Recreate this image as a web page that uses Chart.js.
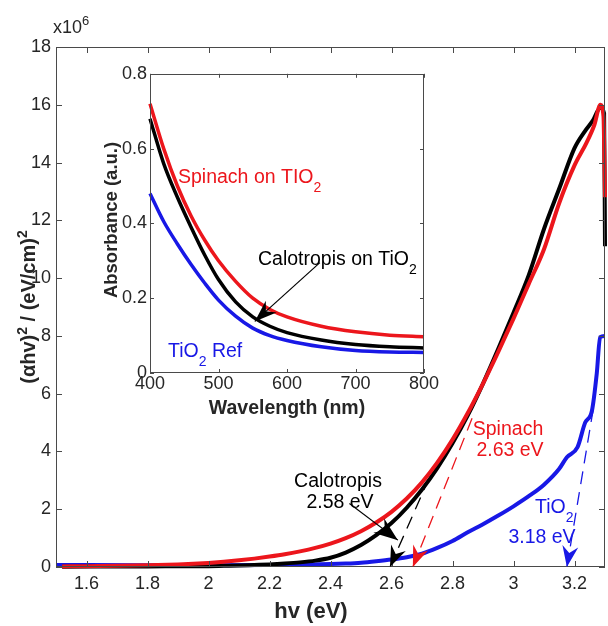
<!DOCTYPE html>
<html>
<head>
<meta charset="utf-8">
<script src="https://cdn.jsdelivr.net/npm/chart.js@4.4.0/dist/chart.umd.min.js"></script>
<style>
  html, body { margin: 0; padding: 0; background: #fff; }
  #wrap { position: relative; width: 608px; height: 626px; }
  #inset { position: absolute; left: 100px; top: 60px; }
</style>
</head>
<body>
<div id="wrap">
  <canvas id="main" width="608" height="626"></canvas>
  <canvas id="inset" width="340" height="370"></canvas>
</div>
<script>
// ---- Tauc plot, values in units of 1e6 (eV/cm)^2 ----
const hvSpinach  = [1.52, 1.6, 1.7, 1.8, 1.9, 1.95, 2.0, 2.05, 2.1, 2.15, 2.2, 2.25, 2.3, 2.35, 2.4, 2.45, 2.5, 2.55, 2.6, 2.65, 2.7, 2.75, 2.8, 2.85, 2.9, 2.95, 3.0, 3.05, 3.1, 3.15, 3.2, 3.24, 3.265, 3.285, 3.295, 3.3];
const tauSpinach = [0.02, 0.03, 0.04, 0.06, 0.09, 0.11, 0.14, 0.18, 0.23, 0.29, 0.36, 0.44, 0.54, 0.66, 0.81, 1.0, 1.24, 1.54, 1.91, 2.37, 2.93, 3.61, 4.41, 5.33, 6.35, 7.45, 8.6, 9.8, 11.0, 12.6, 13.9, 14.7, 15.3, 16.0, 15.6, 12.8];

const hvCalotropis  = [1.52, 1.8, 2.0, 2.05, 2.1, 2.15, 2.2, 2.25, 2.3, 2.35, 2.4, 2.45, 2.5, 2.55, 2.6, 2.65, 2.7, 2.75, 2.8, 2.85, 2.9, 2.95, 3.0, 3.05, 3.1, 3.15, 3.2, 3.235, 3.26, 3.285, 3.297, 3.3];
const tauCalotropis = [0.01, 0.02, 0.03, 0.04, 0.05, 0.07, 0.09, 0.12, 0.16, 0.22, 0.32, 0.5, 0.76, 1.1, 1.52, 2.05, 2.68, 3.42, 4.28, 5.25, 6.35, 7.55, 8.8, 10.1, 11.7, 13.1, 14.5, 15.1, 15.45, 15.9, 15.7, 11.1];

const hvTiO2  = [1.5, 1.8, 2.0, 2.2, 2.3, 2.4, 2.45, 2.5, 2.55, 2.6, 2.65, 2.7, 2.75, 2.8, 2.85, 2.9, 2.95, 3.0, 3.05, 3.1, 3.15, 3.175, 3.21, 3.235, 3.257, 3.273, 3.284, 3.3];
const tauTiO2 = [0.07, 0.06, 0.06, 0.07, 0.08, 0.1, 0.12, 0.15, 0.2, 0.26, 0.34, 0.46, 0.66, 0.9, 1.2, 1.48, 1.78, 2.1, 2.45, 2.85, 3.4, 3.8, 4.15, 5.0, 5.4, 6.7, 7.96, 8.0];

// tangent (band gap) lines: [intercept, upper point]
const fitSpinachHv = [2.67, 2.87];
const fitSpinachVal = [0, 5.3];
const fitCalotropisHv = [2.595, 2.72];
const fitCalotropisVal = [0, 3.0];
const fitTiO2Hv = [3.175, 3.262];
const fitTiO2Val = [0, 5.5];

const xTickValues = [1.6, 1.8, 2.0, 2.2, 2.4, 2.6, 2.8, 3.0, 3.2];
const xTickLabels = ['1.6', '1.8', '2', '2.2', '2.4', '2.6', '2.8', '3', '3.2'];
const yTickValues = [0, 2, 4, 6, 8, 10, 12, 14, 16, 18];
const yTickLabels = ['0', '2', '4', '6', '8', '10', '12', '14', '16', '18'];

// ---- inset: absorbance spectra ----
const wavelength = [400, 420, 440, 460, 480, 500, 525, 550, 575, 600, 650, 700, 750, 800];
const absSpinach    = [0.72, 0.60, 0.50, 0.42, 0.355, 0.30, 0.245, 0.20, 0.17, 0.15, 0.125, 0.11, 0.101, 0.097];
const absCalotropis = [0.68, 0.56, 0.47, 0.39, 0.315, 0.25, 0.19, 0.15, 0.125, 0.108, 0.088, 0.076, 0.07, 0.067];
const absTiO2       = [0.48, 0.405, 0.345, 0.29, 0.24, 0.195, 0.152, 0.12, 0.10, 0.087, 0.07, 0.06, 0.056, 0.055];

const wlTickValues = [400, 500, 600, 700, 800];
const wlTickLabels = ['400', '500', '600', '700', '800'];
const absTickValues = [0, 0.2, 0.4, 0.6, 0.8];
const absTickLabels = ['0', '0.2', '0.4', '0.6', '0.8'];

const RED = 'rgb(236,22,28)';
const BLUE = 'rgb(24,24,230)';
const BLACK = '#000000';
const AXIS = '#262626';
const FONT = "'Liberation Sans', Arial, Helvetica, sans-serif";

Chart.defaults.font.family = FONT;
Chart.defaults.color = AXIS;

function toXY(xs, ys) {
  return xs.map((v, i) => ({ x: v, y: ys[i] }));
}

function richText(ctx, parts, x, y, size, weight, color, align) {
  const fontOf = k => weight + ' ' + (k ? Math.round(size * 0.72) : size) + 'px ' + FONT;
  let w = 0;
  parts.forEach(p => { ctx.font = fontOf(p[1]); w += ctx.measureText(p[0]).width; });
  let cx = align === 'center' ? x - w / 2 : (align === 'right' ? x - w : x);
  ctx.fillStyle = color;
  ctx.textAlign = 'left';
  ctx.textBaseline = 'alphabetic';
  parts.forEach(p => {
    ctx.font = fontOf(p[1]);
    let dy = p[1] === 1 ? -size * 0.42 : (p[1] === -1 ? size * 0.45 : 0);
    ctx.fillText(p[0], cx, y + dy);
    cx += ctx.measureText(p[0]).width;
  });
}

function arrowHead(ctx, tx, ty, fx, fy, len, half, color) {
  const dx = tx - fx, dy = ty - fy, d = Math.hypot(dx, dy);
  const ux = dx / d, uy = dy / d, nx = -uy, ny = ux;
  const bx = tx - ux * len, by = ty - uy * len;
  ctx.beginPath();
  ctx.moveTo(tx, ty);
  ctx.lineTo(bx + nx * half, by + ny * half);
  ctx.lineTo(tx - ux * len * 0.68, ty - uy * len * 0.68);
  ctx.lineTo(bx - nx * half, by - ny * half);
  ctx.closePath();
  ctx.fillStyle = color;
  ctx.fill();
}

function boxPlugin(tickLen) {
  return {
    id: 'box',
    afterDatasetsDraw(chart) {
      const { ctx, chartArea: a, scales: { x, y } } = chart;
      ctx.save();
      ctx.strokeStyle = '#4a4a4a';
      ctx.lineWidth = 1;
      ctx.strokeRect(Math.round(a.left) + 0.5, Math.round(a.top) + 0.5,
        Math.round(a.right - a.left) - 1, Math.round(a.bottom - a.top) - 1);
      ctx.beginPath();
      x.ticks.forEach(t => {
        const px = Math.round(x.getPixelForValue(t.value)) + 0.5;
        ctx.moveTo(px, a.bottom); ctx.lineTo(px, a.bottom - tickLen);
        ctx.moveTo(px, a.top); ctx.lineTo(px, a.top + tickLen);
      });
      y.ticks.forEach(t => {
        const py = Math.round(y.getPixelForValue(t.value)) + 0.5;
        ctx.moveTo(a.left, py); ctx.lineTo(a.left + tickLen, py);
        ctx.moveTo(a.right, py); ctx.lineTo(a.right - tickLen, py);
      });
      ctx.stroke();
      ctx.restore();
    }
  };
}

function fixedTicks(values, labels, fontSize, padding) {
  return {
    afterBuildTicks: s => { s.ticks = values.map(v => ({ value: v })); },
    ticks: {
      font: { size: fontSize },
      color: AXIS,
      padding: padding,
      maxRotation: 0,
      autoSkip: false,
      callback: (v, i) => labels[i]
    },
    grid: { display: false, drawTicks: false },
    border: { display: false }
  };
}

/* MAIN CHART */
const mainText = {
  id: 'mainText',
  afterDraw(chart) {
    const { ctx, scales: { x, y } } = chart;
    ctx.save();
    richText(ctx, [['x10', 0], ['6', 1]], 53, 33, 18, 'normal', AXIS, 'left');
    ctx.font = 'bold 22px ' + FONT;
    ctx.fillStyle = AXIS;
    ctx.textAlign = 'center';
    ctx.textBaseline = 'middle';
    ctx.fillText('hv (eV)', 311, 612);

    ctx.save();
    ctx.translate(28, 307);
    ctx.rotate(-Math.PI / 2);
    richText(ctx, [['(\u03b1hv)', 0], ['2', 1], [' / (eV/cm)', 0], ['2', 1]], 0, 7, 20, 'bold', AXIS, 'center');
    ctx.restore();

    // arrowheads at the band gap intercepts
    const fits = [
      [fitCalotropisHv, fitCalotropisVal, BLACK],
      [fitSpinachHv, fitSpinachVal, RED],
      [fitTiO2Hv, fitTiO2Val, BLUE]
    ];
    fits.forEach(f => {
      arrowHead(ctx, x.getPixelForValue(f[0][0]), y.getPixelForValue(f[1][0]),
        x.getPixelForValue(f[0][1]), y.getPixelForValue(f[1][1]), 21, 8, f[2]);
    });

    // Calotropis label arrow
    const ax0 = x.getPixelForValue(2.462), ay0 = y.getPixelForValue(2.2);
    const ax1 = x.getPixelForValue(2.621), ay1 = y.getPixelForValue(0.93);
    ctx.strokeStyle = BLACK;
    ctx.lineWidth = 1.2;
    ctx.beginPath();
    ctx.moveTo(ax0, ay0);
    ctx.lineTo(ax1, ay1);
    ctx.stroke();
    arrowHead(ctx, ax1, ay1, ax0, ay0, 24, 9, BLACK);

    richText(ctx, [['Calotropis', 0]], 338, 487, 19.5, 'normal', BLACK, 'center');
    richText(ctx, [['2.58 eV', 0]], 340, 508, 19.5, 'normal', BLACK, 'center');
    richText(ctx, [['Spinach', 0]], 508, 435, 19.5, 'normal', RED, 'center');
    richText(ctx, [['2.63 eV', 0]], 510, 456, 19.5, 'normal', RED, 'center');
    richText(ctx, [['TiO', 0], ['2', -1]], 535, 513, 19.5, 'normal', BLUE, 'left');
    richText(ctx, [['3.18 eV', 0]], 542, 543, 19.5, 'normal', BLUE, 'center');
    ctx.restore();
  }
};

const xMain = fixedTicks(xTickValues, xTickLabels, 18, 6);
xMain.type = 'linear';
xMain.min = 1.5;
xMain.max = 3.3;
xMain.afterFit = s => { s.height = 59; };

const yMain = fixedTicks(yTickValues, yTickLabels, 18, 5);
yMain.type = 'linear';
yMain.min = 0;
yMain.max = 18;
yMain.afterFit = s => { s.width = 56; };

function curve(label, xs, ys, color, width, order) {
  return { label: label, data: toXY(xs, ys), borderColor: color, borderWidth: width,
    pointRadius: 0, cubicInterpolationMode: 'monotone', order: order, clip: 6, fill: false };
}
function tangent(label, xs, ys, color) {
  return { label: label, data: toXY(xs, ys), borderColor: color, borderWidth: 1.3,
    borderDash: [13, 8], pointRadius: 0, tension: 0, order: 0, fill: false };
}

new Chart(document.getElementById('main'), {
  type: 'line',
  data: {
    datasets: [
      tangent('Spinach fit', fitSpinachHv, fitSpinachVal, RED),
      tangent('Calotropis fit', fitCalotropisHv, fitCalotropisVal, BLACK),
      tangent('TiO2 fit', fitTiO2Hv, fitTiO2Val, BLUE),
      curve('Spinach', hvSpinach, tauSpinach, RED, 4, 1),
      curve('Calotropis', hvCalotropis, tauCalotropis, BLACK, 4, 2),
      curve('TiO2', hvTiO2, tauTiO2, BLUE, 4, 3)
    ]
  },
  options: {
    responsive: false,
    animation: false,
    devicePixelRatio: 1,
    layout: { padding: { left: 0, top: 47, right: 3, bottom: 0 } },
    plugins: { legend: { display: false }, tooltip: { enabled: false } },
    scales: { x: xMain, y: yMain }
  },
  plugins: [boxPlugin(6), mainText]
});

/* INSET */
const insetText = {
  id: 'insetText',
  afterDraw(chart) {
    const { ctx, scales: { x, y } } = chart;
    ctx.save();
    ctx.font = 'bold 19.5px ' + FONT;
    ctx.fillStyle = AXIS;
    ctx.textAlign = 'center';
    ctx.textBaseline = 'middle';
    ctx.fillText('Wavelength (nm)', 187, 349);
    ctx.save();
    ctx.translate(12, 160);
    ctx.rotate(-Math.PI / 2);
    ctx.font = 'bold 18.5px ' + FONT;
    ctx.fillText('Absorbance (a.u.)', 0, 0);
    ctx.restore();

    const ax0 = x.getPixelForValue(648), ay0 = y.getPixelForValue(0.295);
    const ax1 = x.getPixelForValue(553), ay1 = y.getPixelForValue(0.138);
    ctx.strokeStyle = BLACK;
    ctx.lineWidth = 1.2;
    ctx.beginPath();
    ctx.moveTo(ax0, ay0);
    ctx.lineTo(ax1, ay1);
    ctx.stroke();
    arrowHead(ctx, ax1, ay1, ax0, ay0, 22, 8, BLACK);

    richText(ctx, [['Spinach on TIO', 0], ['2', -1]], 78, 123, 19.5, 'normal', RED, 'left');
    richText(ctx, [['Calotropis on TiO', 0], ['2', -1]], 158, 205, 19.5, 'normal', BLACK, 'left');
    richText(ctx, [['TiO', 0], ['2', -1], [' Ref', 0]], 68, 297, 19.5, 'normal', BLUE, 'left');
    ctx.restore();
  }
};

const xInset = fixedTicks(wlTickValues, wlTickLabels, 18, 0);
xInset.type = 'linear';
xInset.min = 400;
xInset.max = 800;
xInset.afterFit = s => { s.height = 57; };

const yInset = fixedTicks(absTickValues, absTickLabels, 18, 3);
yInset.type = 'linear';
yInset.min = 0;
yInset.max = 0.8;
yInset.afterFit = s => { s.width = 50; };

new Chart(document.getElementById('inset'), {
  type: 'line',
  data: {
    datasets: [
      curve('Spinach on TIO2', wavelength, absSpinach, RED, 3.5, 1),
      curve('Calotropis on TiO2', wavelength, absCalotropis, BLACK, 3.5, 2),
      curve('TiO2 Ref', wavelength, absTiO2, BLUE, 3.5, 3)
    ]
  },
  options: {
    responsive: false,
    animation: false,
    devicePixelRatio: 1,
    layout: { padding: { left: 0, top: 12, right: 16, bottom: 0 } },
    plugins: { legend: { display: false }, tooltip: { enabled: false } },
    scales: { x: xInset, y: yInset }
  },
  plugins: [boxPlugin(4), insetText]
});
</script>
</body>
</html>
